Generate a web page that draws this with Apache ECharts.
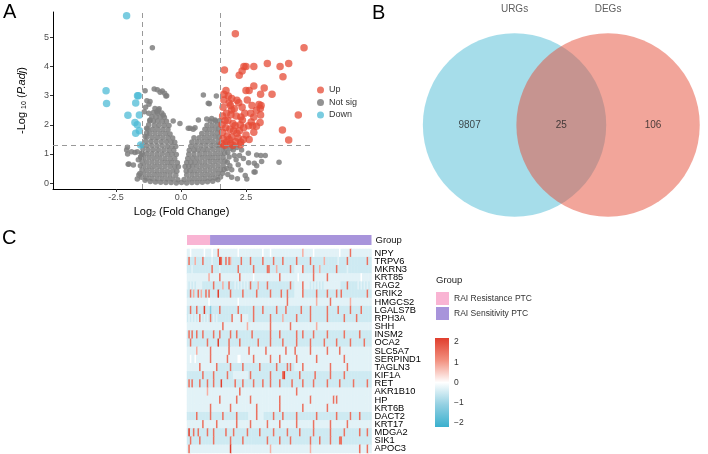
<!DOCTYPE html>
<html>
<head>
<meta charset="utf-8">
<script src="https://cdn.jsdelivr.net/npm/echarts@6/dist/echarts.min.js"></script>
<style>
  html, body { margin: 0; padding: 0; background: #fff; }
  #main { width: 708px; height: 454px; }
</style>
</head>
<body>
<div id="main"></div>
<script>
// ---- A: volcano plot ----
var fcCut = 1.5;     // |log2 FC| threshold
var padjCut = 1.3;   // -log10(0.05)

var upGenes = [
  [2.09,5.12],[4.73,4.64],[1.67,3.88],[2.42,4.0],[2.5,4.0],[2.8,4.0],[2.35,3.85],[2.24,3.7],
  [3.32,4.1],[3.81,4.0],[4.14,4.1],[3.92,3.65],[2.5,3.18],[2.62,3.18],[2.8,3.33],[3.2,3.26],
  [3.06,3.05],[3.5,3.05],[1.73,3.18],[1.82,2.99],[2.15,2.84],[2.22,2.76],[2.73,2.66],[3.08,2.66],
  [3.05,2.56],[1.9,2.66],[1.95,2.51],[2.3,2.27],[2.36,2.17],[2.8,2.27],[3.06,2.34],[2.76,1.97],
  [3.04,2.08],[4.51,2.34],[3.9,1.82],[4.14,1.48],[2.08,1.97],[2.15,1.71],[2.41,1.9],[2.5,1.65],
  [2.6,1.97],[1.58,1.35],[1.62,1.52],[1.6,1.75],[1.58,2.0],[1.6,2.3],[1.62,2.6],[1.65,2.85],
  [1.75,1.4],[1.78,1.62],[1.72,1.9],[1.8,2.15],[1.75,2.4],[1.85,2.75],[1.9,1.35],[1.95,1.58],
  [1.88,1.85],[2.0,2.05],[1.92,2.35],[2.05,2.55],[2.1,1.42],[2.2,1.55],[2.02,1.8],[2.28,2.0],
  [2.12,2.3],[2.3,1.4],[2.25,1.8],[1.68,1.3],[1.85,1.5],[2.4,1.5],[1.7,2.15],[1.95,2.9],
  [1.65,3.05],[2.0,1.3],[2.45,2.4],[2.35,2.6],[2.68,2.4],[2.9,2.5],[2.62,1.5],[2.8,1.75],
  [2.9,1.95],[3.0,2.7],[2.55,2.85],[2.28,1.32],[2.7,2.1]
];

var downGenes = [
  [-2.09,5.74],[-2.88,3.17],[-2.86,2.73],[-1.64,3.0],[-1.67,3.0],[-1.74,2.75],[-2.04,2.33],
  [-1.6,2.34],[-1.77,2.08],[-1.68,2.0],[-1.6,1.8],[-1.74,1.71],[-1.55,1.31]
];

var notSigGenes = [
  [-1.38,0.1],[-1.18,0.06],[-0.98,0.04],[-0.78,0.03],[-0.58,0.02],[-0.38,0.02],[-0.18,0.01],[0.02,0.02],
  [0.22,0.01],[0.42,0.02],[0.62,0.02],[0.82,0.03],[1.02,0.05],[1.22,0.07],[1.42,0.12],
  [-1.52,0.2],[-1.32,0.17],[-1.12,0.16],[-0.92,0.15],[-0.72,0.15],[-0.52,0.14],[-0.32,0.14],[-0.12,0.12],
  [0.12,0.13],[0.32,0.14],[0.52,0.15],[0.72,0.15],[0.92,0.16],[1.12,0.17],[1.32,0.18],[1.52,0.21],
  [-1.58,0.33],[-1.42,0.31],[-1.22,0.3],[-1.02,0.3],[-0.82,0.29],[-0.62,0.29],[-0.42,0.28],[-0.2,0.27],
  [0.22,0.28],[0.42,0.29],[0.62,0.3],[0.82,0.3],[1.02,0.31],[1.22,0.31],[1.42,0.32],[1.6,0.34],
  [-1.5,0.45],[-1.32,0.44],[-1.12,0.44],[-0.92,0.43],[-0.72,0.43],[-0.52,0.42],[-0.32,0.42],[-0.16,0.41],
  [0.2,0.42],[0.34,0.43],[0.52,0.43],[0.72,0.44],[0.92,0.44],[1.12,0.45],[1.32,0.45],[1.52,0.46],[1.66,0.47],
  [-1.56,0.6],[-1.42,0.59],[-1.22,0.58],[-1.02,0.58],[-0.82,0.57],[-0.62,0.57],[-0.42,0.57],[-0.24,0.56],
  [-0.1,0.56],[0.16,0.57],[0.3,0.57],[0.44,0.58],[0.62,0.58],[0.82,0.59],[1.02,0.59],[1.22,0.6],[1.42,0.6],[1.62,0.61],
  [-1.5,0.74],[-1.32,0.73],[-1.12,0.73],[-0.92,0.72],[-0.72,0.72],[-0.52,0.71],[-0.34,0.71],[-0.14,0.7],
  [0.22,0.71],[0.38,0.72],[0.54,0.72],[0.72,0.73],[0.92,0.73],[1.12,0.74],[1.32,0.74],[1.52,0.75],[1.7,0.76],
  [-1.54,0.88],[-1.42,0.87],[-1.22,0.87],[-1.02,0.86],[-0.82,0.86],[-0.62,0.85],[-0.42,0.85],[-0.24,0.84],
  [0.26,0.85],[0.44,0.86],[0.62,0.86],[0.82,0.87],[1.02,0.87],[1.22,0.88],[1.42,0.88],[1.62,0.89],
  [-1.5,1.02],[-1.32,1.01],[-1.12,1.01],[-0.92,1.0],[-0.72,1.0],[-0.52,0.99],[-0.34,0.99],[-0.18,0.98],
  [0.3,0.99],[0.5,1.0],[0.72,1.0],[0.92,1.01],[1.12,1.01],[1.32,1.02],[1.52,1.02],[1.68,1.03],
  [-1.46,1.16],[-1.26,1.15],[-1.06,1.15],[-0.86,1.14],[-0.66,1.14],[-0.46,1.13],[-0.28,1.13],
  [0.32,1.13],[0.5,1.14],[0.66,1.14],[0.84,1.15],[1.02,1.15],[1.22,1.16],[1.42,1.16],[1.6,1.17],
  [-1.5,1.3],[-1.32,1.29],[-1.12,1.29],[-0.92,1.28],[-0.72,1.28],[-0.52,1.27],[-0.34,1.27],[-0.2,1.26],
  [0.38,1.27],[0.56,1.28],[0.76,1.28],[0.96,1.29],[1.16,1.29],[1.36,1.3],[1.48,1.3],
  [-1.36,1.44],[-1.16,1.43],[-0.96,1.43],[-0.76,1.42],[-0.56,1.42],[-0.38,1.41],[-0.24,1.4],
  [0.42,1.41],[0.62,1.42],[0.82,1.42],[1.02,1.43],[1.22,1.43],[1.42,1.44],
  [-1.3,1.58],[-1.1,1.57],[-0.9,1.57],[-0.7,1.56],[-0.5,1.56],[-0.32,1.55],
  [0.5,1.56],[0.7,1.56],[0.9,1.57],[1.1,1.57],[1.3,1.58],[1.47,1.58],
  [-1.32,1.72],[-1.2,1.71],[-1.0,1.71],[-0.8,1.7],[-0.6,1.7],[-0.42,1.69],[0.8,1.7],[1.0,1.71],[1.2,1.71],[1.4,1.72],
  [-1.28,1.86],[-1.1,1.85],[-0.9,1.85],[-0.7,1.84],[-0.5,1.84],[0.92,1.85],[1.1,1.85],[1.3,1.86],[1.46,1.86],
  [-1.24,2.0],[-1.02,1.99],[-0.84,1.99],[-0.64,1.98],[-0.46,1.98],[1.0,1.99],[1.2,1.99],[1.4,2.0],
  [-1.2,2.14],[-1.06,2.13],[-0.9,2.13],[-0.72,2.12],[-0.56,2.12],[1.12,2.13],[1.32,2.13],[1.48,2.14],
  [-1.12,2.28],[-0.96,2.27],[-0.8,2.27],[-0.64,2.26],[-1.06,2.42],[-0.9,2.41],[-0.74,2.41],[-1.0,2.56],[-0.84,2.55],
  // scattered above the mass
  [-1.1,4.64],[-1.38,3.17],[-1.03,3.23],[-0.91,3.2],[-0.72,3.16],[-0.63,3.08],[-0.58,2.99],[-0.8,3.12],
  [-1.31,2.83],[-1.19,2.8],[-1.23,2.71],[-1.36,2.6],[-1.41,2.45],[-1.24,2.4],[-0.93,2.45],[-0.87,2.51],
  [-0.68,2.34],[-1.19,2.17],[-0.3,2.13],[-1.32,1.88],[-1.38,1.6],[-0.55,3.0],[0.86,3.02],[1.05,2.74],
  [1.09,2.72],[1.36,2.99],[1.31,2.17],[1.18,2.22],[0.99,2.2],[0.67,2.17],[0.28,1.88],[0.47,1.85],
  [0.54,1.9],[-0.04,2.05],[0.35,1.88],
  // left, below cut
  [-2.06,1.23],[-1.9,1.08],[-1.77,1.05],[-1.68,1.08],[-1.55,0.91],[-2.0,0.66],[-1.83,0.62],[-1.68,0.14],
  [-1.5,1.03],[-1.64,0.8],[-2.09,1.14],[-2.05,1.0],[-2.03,0.65],[-1.62,0.28],
  // right, below cut
  [2.01,1.14],[2.33,1.14],[2.59,1.03],[2.91,0.97],[3.07,0.95],[3.24,0.95],[2.82,0.68],[2.47,0.26],
  [2.81,0.38],[3.1,0.74],[3.77,0.72],[2.2,0.63],[1.95,0.46],[2.91,0.6],[2.85,0.38],[2.17,0.15],
  [2.53,0.14],[1.72,1.2],[1.8,1.05],[1.85,0.9],[1.9,1.2],[2.05,0.95],[2.12,0.8],[1.78,0.72],
  [1.88,0.6],[2.25,0.95],[2.4,0.85],[2.0,1.25],[2.15,1.22],[1.8,0.3],[1.95,0.2],[2.3,0.45],
  [2.6,0.7],[1.76,0.5]
];

// ---- B: venn ----
var vennSets = ['URGs', 'DEGs'];
var vennCounts = [9807, 25, 106];   // URGs only, shared, DEGs only
var vennColors = ['#4DBBD5', '#E64B35'];

// ---- C: heatmap ----
var groupNames = ['RAI Resistance PTC', 'RAI Sensitivity PTC'];
var groupSizes = [15, 105];
var groupColors = ['#F9B4D3', '#A894DB'];

var genes = ['NPY','TRPV6','MKRN3','KRT85','RAG2','GRIK2','HMGCS2','LGALS7B','RPH3A','SHH',
  'INSM2','OCA2','SLC5A7','SERPIND1','TAGLN3','KIF1A','RET','AKR1B10','HP','KRT6B',
  'DACT2','KRT17','MDGA2','SIK1','APOC3'];

// one char per sample: b=-1.2  -=-0.5  .=-0.3  o=0  p=0.8  r=1.5  R=2.2
var heatRows = [
  "..o....... .o....o... r......... ...o...... .........o ....o..... .......... .....p.... ..o....... .........o ......r... ..........",
  "-r---p---- r-----.--- -Rr--r-rp- -----r---- -r-------r ------r--- --r------- -r-------- r--------p --------.- ----r----- -------r--",
  "---.------ ------r--- -.-------- ---r------ ---r------ --rr----p- -------r-- .....r---- --r---p--- -------r-- ----.----- ----------",
  ".......... ....p..... .r........ ....r..... ...o...... .......... r......... ..o....... ..r....... .r........ .......... ...o......",
  ".-.-.-.... -------r-- ---p---r-- -.-.-.-.-. -r----p--- --r------- -------r-- .....r.... -.-.-.-.-. .......... ----r----- -.-.-.-.-.",
  "--r-p--r-p --r-r----- R-------r- ------r--- -----r---- ----r----- -r---r---- .....r---- ----r----- -r-----r-- r--------- -------r--",
  ".......... ....o..... .......... ...o...... .......... .......... .....r.... .......... ....p..... ...r...... ......p... ..........",
  "--r---r--- -R---b---- -r-------- ---r------ ---r-----r --------r- ----r----- ----r----- r--------- -r------r- ------r--- ---r------",
  "-.-.-.-.r. -.-.-r-.-. ---------r .....r.... ---r------ ----r----- --p------- -r-------- r--------- -r-------- --r------- r---------",
  ".......... .......... ...r...... .........p .......... ....r..... .......r.. .......... ....p..... .......... .......... ..........",
  "-r-r--r--- r------r-- -r------r- --r------- --r------- ----r----- r--------- -r---r---- --r------- -r-------- --r------- --r-------",
  "--r------- ---r------ R------r-- ----r----- ------r--- ----r----- --r------- -r-------- r--------r -------r-- ------r--- -----r----",
  "......p... .....r.... .......r.. .......... r......... .r........ ....r..... r......... r......... .r.......r .......... ..........",
  "..o..o.... .....r.... ......r... ...oo..... ...r...... ....r..... r......... .r........ ....r..... .......... ..r....... ..........",
  "........r. .........r --------r- ------r--- -------r-- --------r- -----r-r-- .....r.... .......... ...r...... ....r..... ..........",
  "---------- r------r-- ------r--- .......... -r-------- ----r----- --rR------ ---r------ ---r------ ---r------ --r------- ----------",
  "-r-r----r- ---r---r-- --R------- -r----r--- ---r-----r ----r----- r-------r- -----r---- --r------- -r-------r --------r- -------r--",
  ".......... ...p...... .......... ....r..... .......... .......... .......... .r........ .......... .......... .......... ..........",
  ".......... .......... .r........ ..r....... .r........ .......... r......... .......... r......... .....r.r.. .......... ..........",
  ".......... .....r.... ........r. .......... .....r.... .......... r......... .....r.... .......... .r........ .......... ..........",
  "------r--- -----r---- ---r------ --r------- .....r.... ------r--- --r------- -r-------- ----r----- -------r-- ------r--- --r-------",
  ".......... r........r .......... ..r....... .r........ ..r....... r......... .r........ ..r....... ...r...... ....r..... ..........",
  "-R--r--r-- ---r---r-- -----r---- r--------r -------r-- ------r--- -----r---- ---r------ --r------- ---r------ --r------- --r----r--",
  "--r-----r- -------r-- --------r- ------r--- ---------- --r------- r------r-- ---------- r-----r--- ---r-----r r--------- ----------",
  ".r........ .......... ........R. .......... .......... ....p..... .......... .......... p......... .......... .......... ..r....r.."
];
var codeValue = { 'b': -1.2, '-': -0.5, '.': -0.3, 'o': 0, 'p': 0.8, 'r': 1.5, 'R': 2.2 };
var heatColors = ['#3AB0CE', '#93D0E2', '#FFFFFF', '#F2907F', '#E03E2D'];
var scaleTicks = [-2, -1, 0, 1, 2];

var nSamples = groupSizes[0] + groupSizes[1];
var samples = [];
for (var i = 0; i < nSamples; i++) samples.push('S' + (i + 1));

var heatData = [];
heatRows.forEach(function (row, r) {
  var s = row.replace(/ /g, '');
  for (var c = 0; c < nSamples; c++) {
    var ch = s.charAt(c) || '.';
    heatData.push([c, r, codeValue[ch]]);
  }
});

var FONT = "'Liberation Sans', Arial, sans-serif";
var vennR = 1, vennHalf = 0.51;
var vennCircles = [[-vennHalf, 0, vennR], [vennHalf, 0, vennR]];
var vennText = [
  { value: [-vennHalf - vennR * 0.49, 0], label: { formatter: String(vennCounts[0]) } },
  { value: [0, 0], label: { formatter: String(vennCounts[1]) } },
  { value: [vennHalf + vennR * 0.49, 0], label: { formatter: String(vennCounts[2]) } },
  { value: [-vennHalf, 1.23], label: { formatter: vennSets[0], color: '#333' } },
  { value: [vennHalf, 1.23], label: { formatter: vennSets[1], color: '#333' } }
];

var chart = echarts.init(document.getElementById('main'));
var option = {
  backgroundColor: '#fff',
  animation: false,
  textStyle: { fontFamily: FONT },
  title: [
    { text: 'A', left: 3, top: 2, padding: 0, textStyle: { fontSize: 20, fontWeight: 'normal', color: '#000', fontFamily: FONT } },
    { text: 'B', left: 372, top: 3, padding: 0, textStyle: { fontSize: 20, fontWeight: 'normal', color: '#000', fontFamily: FONT } },
    { text: 'C', left: 2, top: 228, padding: 0, textStyle: { fontSize: 20, fontWeight: 'normal', color: '#000', fontFamily: FONT } },
    { text: 'Group', left: 436, top: 275, padding: 0, textStyle: { fontSize: 9.5, fontWeight: 'normal', color: '#222', fontFamily: FONT } }
  ],
  legend: [
    {
      data: ['Up', 'Not sig', 'Down'], left: 317, top: 85, orient: 'vertical',
      icon: 'circle', itemWidth: 7, itemHeight: 7, itemGap: 2.5, padding: 0,
      textStyle: { fontSize: 9, color: '#333', lineHeight: 10, fontFamily: FONT }
    },
    {
      data: groupNames, left: 436, top: 292, orient: 'vertical',
      icon: 'rect', itemWidth: 13, itemHeight: 13, itemGap: 2, padding: 0,
      textStyle: { fontSize: 8.5, color: '#333', fontFamily: FONT }
    }
  ],
  visualMap: {
    show: false, seriesIndex: 7, min: -2.2, max: 2.2, dimension: 2,
    inRange: { color: heatColors }
  },
  grid: [
    { left: 53, top: 12, width: 257, height: 177 },
    { left: 414.6, top: 2.8, width: 300.8, height: 225.6 },
    { left: 187, top: 235, width: 184.5, height: 10 },
    { left: 187, top: 249, width: 184.5, height: 204 },
    { left: 435, top: 338, width: 14, height: 89 }
  ],
  xAxis: [
    {
      gridIndex: 0, type: 'value', min: -4.92, max: 4.96,
      axisLine: { onZero: false, lineStyle: { color: '#000', width: 1 } },
      axisTick: { length: 3, customValues: [-2.5, 0, 2.5], lineStyle: { color: '#333' } },
      axisLabel: { customValues: [-2.5, 0, 2.5], fontSize: 9, color: '#4D4D4D', margin: 4,
        formatter: function (v) { return v.toFixed(1); } },
      splitLine: { show: false },
      name: '{a|Log}{s|2}{a| (Fold Change)}', nameLocation: 'middle', nameGap: 16,
      nameTextStyle: { rich: {
        a: { fontSize: 11, color: '#000', lineHeight: 13, fontFamily: FONT },
        s: { fontSize: 7, color: '#000', lineHeight: 8, verticalAlign: 'bottom', fontFamily: FONT }
      } }
    },
    { gridIndex: 1, type: 'value', min: -1.6, max: 1.6, show: false },
    { gridIndex: 2, type: 'value', min: 0, max: nSamples, show: false },
    { gridIndex: 3, type: 'category', data: samples, show: false },
    { gridIndex: 4, type: 'value', min: 0, max: 1, show: false }
  ],
  yAxis: [
    {
      gridIndex: 0, type: 'value', min: -0.2, max: 5.87,
      axisLine: { show: true, onZero: false, lineStyle: { color: '#000', width: 1 } },
      axisTick: { show: true, length: 3, customValues: [0, 1, 2, 3, 4, 5], lineStyle: { color: '#333' } },
      axisLabel: { customValues: [0, 1, 2, 3, 4, 5], fontSize: 9, color: '#4D4D4D', margin: 4 },
      splitLine: { show: false },
      name: '{a|-Log }{s|10}{a| (}{i|P.adj}{a|)}', nameLocation: 'middle', nameGap: 25,
      nameTextStyle: { rich: {
        a: { fontSize: 11, color: '#000', lineHeight: 13, fontFamily: FONT },
        i: { fontSize: 11, color: '#000', lineHeight: 13, fontStyle: 'italic', fontFamily: FONT },
        s: { fontSize: 7, color: '#000', lineHeight: 8, verticalAlign: 'bottom', fontFamily: FONT }
      } }
    },
    { gridIndex: 1, type: 'value', min: -1.1, max: 1.3, show: false },
    {
      gridIndex: 2, type: 'category', data: ['Group'], position: 'right',
      axisLine: { show: false }, axisTick: { show: false },
      axisLabel: { fontSize: 9.5, color: '#111', margin: 4 }
    },
    {
      gridIndex: 3, type: 'category', data: genes, inverse: true, position: 'right',
      axisLine: { show: false }, axisTick: { show: false },
      axisLabel: { fontSize: 9.3, color: '#000', margin: 3, interval: 0 }
    },
    {
      gridIndex: 4, type: 'value', min: -2.2, max: 2.2, position: 'right', z: 5,
      axisLine: { show: false }, splitLine: { show: false },
      axisTick: { show: true, inside: true, length: 3, customValues: scaleTicks, lineStyle: { color: '#fff', width: 1 } },
      axisLabel: { customValues: scaleTicks, fontSize: 8.5, color: '#333', margin: 5,
        formatter: function (v) { return String(v).replace('-', '\u2212'); } }
    }
  ],
  series: [
    {
      name: 'Not sig', type: 'scatter', xAxisIndex: 0, yAxisIndex: 0,
      data: notSigGenes, symbolSize: 5.5,
      itemStyle: { color: '#7F7F7F', opacity: 0.85 },
      markLine: {
        silent: true, symbol: 'none', label: { show: false },
        lineStyle: { color: '#999', type: [5, 4], width: 1 },
        data: [{ xAxis: -fcCut }, { xAxis: fcCut }, { yAxis: padjCut }]
      }
    },
    {
      name: 'Up', type: 'scatter', xAxisIndex: 0, yAxisIndex: 0,
      data: upGenes, symbolSize: 7.5,
      itemStyle: { color: '#E64B35', opacity: 0.75 }
    },
    {
      name: 'Down', type: 'scatter', xAxisIndex: 0, yAxisIndex: 0,
      data: downGenes, symbolSize: 7.5,
      itemStyle: { color: '#4DBBD5', opacity: 0.75 }
    },
    {
      name: 'venn', type: 'custom', xAxisIndex: 1, yAxisIndex: 1,
      data: vennCircles,
      renderItem: function (params, api) {
        var c = api.coord([api.value(0), api.value(1)]);
        var r = api.size([api.value(2), 0])[0];
        return { type: 'circle', shape: { cx: c[0], cy: c[1], r: r },
          style: { fill: vennColors[params.dataIndex], opacity: 0.5 } };
      }
    },
    {
      name: 'vennText', type: 'scatter', xAxisIndex: 1, yAxisIndex: 1,
      data: vennText, symbolSize: 0, silent: true,
      label: { show: true, position: 'inside', fontSize: 10, color: '#222', fontFamily: FONT }
    },
    {
      name: groupNames[0], type: 'bar', xAxisIndex: 2, yAxisIndex: 2, stack: 'grp',
      data: [groupSizes[0]], barWidth: '100%', itemStyle: { color: groupColors[0] }
    },
    {
      name: groupNames[1], type: 'bar', xAxisIndex: 2, yAxisIndex: 2, stack: 'grp',
      data: [groupSizes[1]], barWidth: '100%', itemStyle: { color: groupColors[1] }
    },
    {
      name: 'expr', type: 'heatmap', xAxisIndex: 3, yAxisIndex: 3,
      data: heatData, itemStyle: { borderWidth: 0 }
    },
    {
      name: 'scale', type: 'custom', xAxisIndex: 4, yAxisIndex: 4,
      data: [[0, -2.2, 1, 2.2]], encode: { x: [0, 2], y: [1, 3] },
      renderItem: function (params, api) {
        var p1 = api.coord([api.value(0), api.value(3)]);
        var p2 = api.coord([api.value(2), api.value(1)]);
        var stops = heatColors.slice().reverse().map(function (col, k) {
          return { offset: k / (heatColors.length - 1), color: col };
        });
        return { type: 'rect', shape: { x: p1[0], y: p1[1], width: p2[0] - p1[0], height: p2[1] - p1[1] },
          style: { fill: new echarts.graphic.LinearGradient(0, 0, 0, 1, stops) } };
      }
    }
  ]
};
chart.setOption(option);
</script>
</body>
</html>
